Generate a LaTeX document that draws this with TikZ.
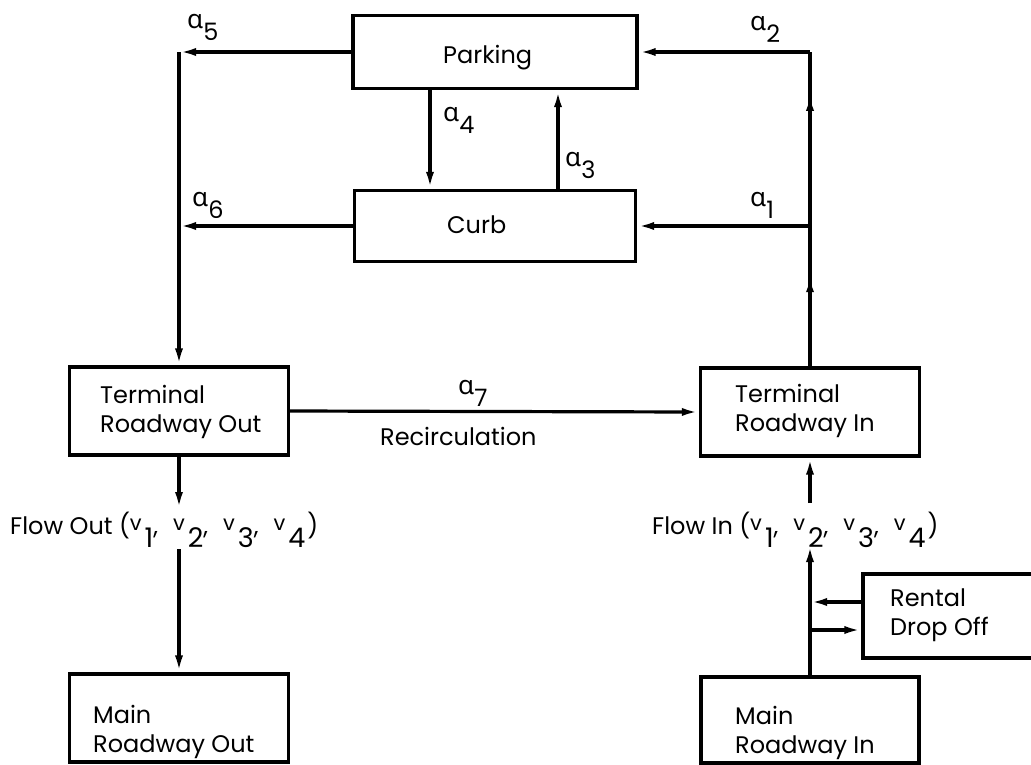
\documentclass[tikz,border=0pt]{standalone}
\usepackage{fontspec}
\setmainfont{Poppins}
\newfontfamily\greekfont{Noto Sans}
\usetikzlibrary{arrows.meta,decorations.markings}
\newcommand{\alab}[1]{\raisebox{12pt}{\greekfont\fontsize{26}{26}\selectfont α}#1}
\newcommand{\vv}[1]{\raisebox{4pt}{\fontsize{21}{21}\selectfont v}\kern3pt\raisebox{-13pt}{\fontsize{27}{27}\selectfont #1}}
\newcommand{\vgap}{\hspace{15pt}}
\begin{document}
\begin{tikzpicture}[x=1pt,y=-1pt,
  box/.style={draw, line width=3.2pt, inner sep=0pt},
  txt/.style={font=\fontsize{24}{29}\selectfont, align=left, inner sep=0pt, anchor=base west},
  tip/.style={-{Latex[length=17pt,width=8pt]}},
  ln/.style={line width=3.2pt},
  arr/.style={ln, tip}]
\useasboundingbox (0,0) rectangle (1031,764);

% boxes
\node[box, minimum width=284pt, minimum height=73pt] (parking) at (495,52) {};
\node[box, minimum width=281pt, minimum height=71pt] (curb) at (495,226) {};
\node[box, minimum width=219pt, minimum height=88pt] (tro) at (179,411) {};
\node[box, minimum width=219pt, minimum height=88pt] (tri) at (810,412) {};
\node[box, minimum width=219pt, minimum height=88pt] (mro) at (179,718) {};
\node[box, minimum width=218pt, minimum height=86pt] (mri) at (810,720) {};
\node[box, minimum width=180pt, minimum height=84pt] (rental) at (953,616) {};

% box texts (base anchor = baseline of last line)
\node[txt] (parking-t) at (443,63) {Parking};
\node[txt] (curb-t) at (447,233) {Curb};
\node[txt] (tro-t) at (100,432) {Terminal\\Roadway Out};
\node[txt] (tri-t) at (735,431) {Terminal\\Roadway In};
\node[txt] (mro-t) at (93,752) {Main\\Roadway Out};
\node[txt] (mri-t) at (735,753) {Main\\Roadway In};
\node[txt] (rental-t) at (890,635) {Rental\\Drop Off};

% flow texts
\node[txt] (fo) at (10,534) {Flow Out (\vv{1},\vgap\vv{2},\vgap\vv{3},\vgap\vv{4}\kern2pt)};
\node[txt] (fi) at (652,534) {Flow In (\vv{1},\vgap\vv{2},\vgap\vv{3},\vgap\vv{4}\kern2pt)};

% junction coordinates
\coordinate (L5) at (tro.north |- parking.west);
\coordinate (L6) at (tro.north |- curb.west);
\coordinate (R2) at (tri.north |- parking.east);
\coordinate (R1) at (tri.north |- curb.east);
\coordinate (foin) at (179,509);
\coordinate (foout) at (179,549);
\coordinate (fiout) at (810,503);
\coordinate (fiin) at (810,545);

% left side
\draw[arr] (parking.west) -- (L5);
\draw[arr] (curb.west) -- (L6);
\draw[arr] (L5) -- (tro.north);

% right side
\draw[ln, postaction={decorate}, decoration={markings,
   mark=at position 0.29 with {\arrow{Latex[length=17pt,width=8pt]}},
   mark=at position 0.867 with {\arrow{Latex[length=17pt,width=8pt]}}}]
   (tri.north) -- (R2);
\draw[arr] (R2) -- (parking.east);
\draw[arr] (R1) -- (curb.east);

% between parking and curb
\draw[arr] ([xshift=-65pt]parking.south) -- ([xshift=-65pt]curb.north);
\draw[arr] ([xshift=63pt]curb.north) -- ([xshift=63pt]parking.south);

% recirculation
\draw[arr] (tro.east) -- (tri.west);

% flow out
\draw[arr] (tro.south) -- (foin);
\draw[arr] (foout) -- (mro.north);

% flow in
\draw[arr] (fiout) -- (tri.south);
\draw[arr] (mri.north) -- (fiin);
\draw[arr] ([yshift=14pt]rental.west) -- ([yshift=14pt]rental.west -| mri.north);
\draw[arr] ([yshift=-14pt]rental.west -| mri.north) -- ([yshift=-14pt]rental.west);

% labels
\node[txt] (a5) at (187,40) {\alab{5}};
\node[txt] (a6) at (192,218) {\alab{6}};
\node[txt] (a4) at (443,133) {\alab{4}};
\node[txt] (a3) at (565,178) {\alab{3}};
\node[txt] (a2) at (750,42) {\alab{2}};
\node[txt] (a1) at (750,218) {\alab{1}};
\node[txt] (a7) at (458,406) {\alab{7}};
\node[txt] (rec) at (380,445) {Recirculation};
\end{tikzpicture}
\end{document}
